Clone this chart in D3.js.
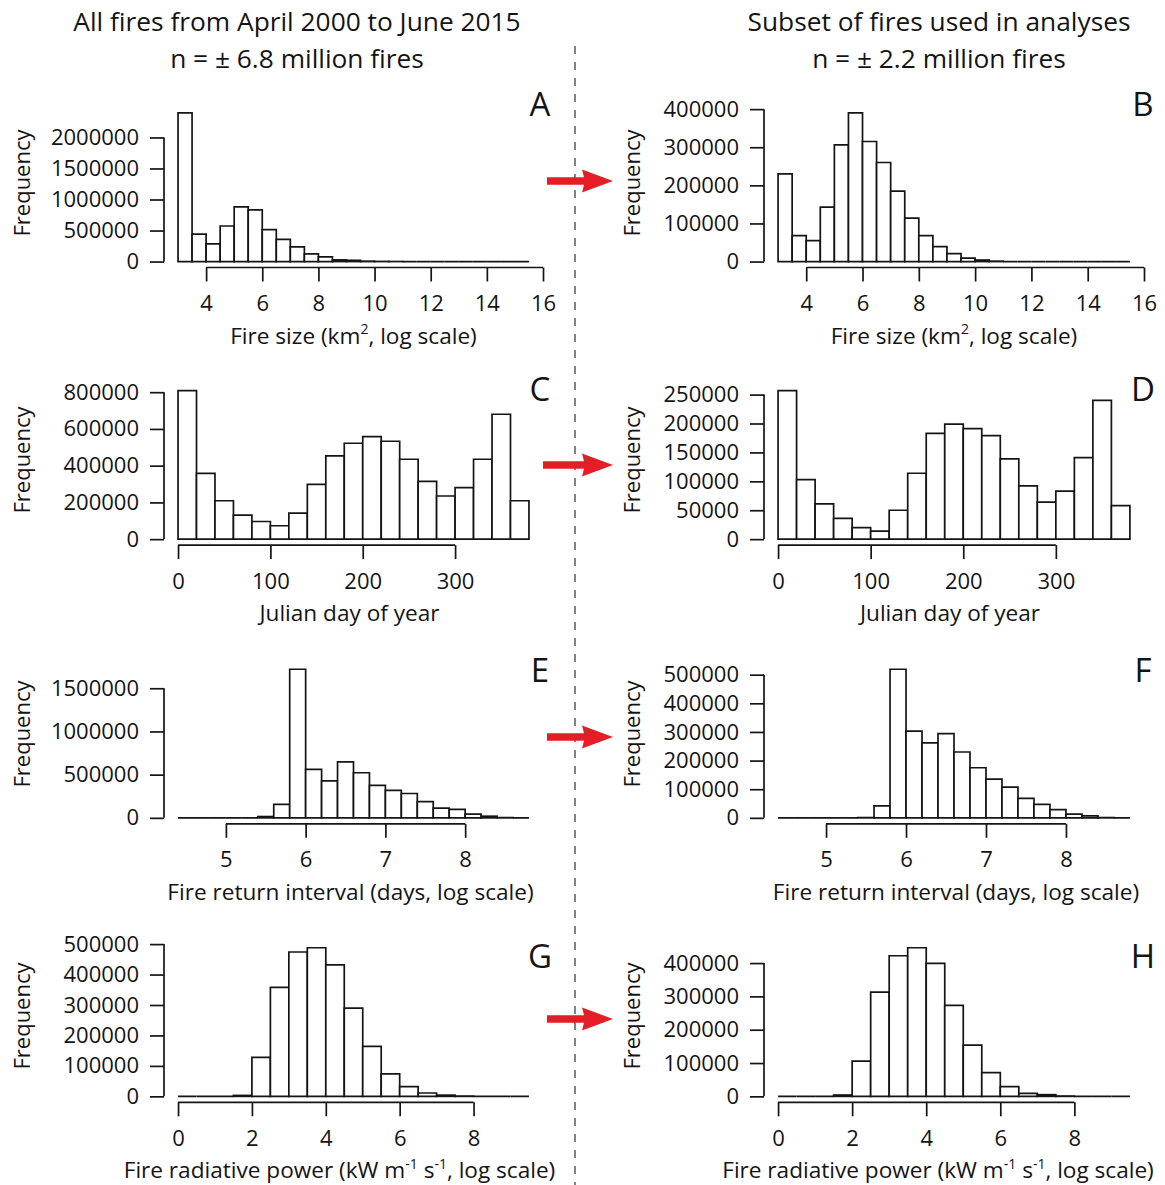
<!DOCTYPE html>
<html>
<head>
<meta charset="utf-8">
<script src="https://cdn.jsdelivr.net/npm/d3@7"></script>
<style>
  html, body { margin: 0; padding: 0; background: #fff; }
  svg { display: block; font-family: "Open Sans", "Noto Sans", sans-serif; }
</style>
</head>
<body>
<svg id="chart" width="1165" height="1185"></svg>
<script>
// ---- Column headings ----
const headingAll = ["All fires from April 2000 to June 2015", "n = \u00B1 6.8 million fires"];
const headingSubset = ["Subset of fires used in analyses", "n = \u00B1 2.2 million fires"];
const panelLetters = ["A", "B", "C", "D", "E", "F", "G", "H"];

// ---- Histogram bin edges ----
const sizeBreaks = [3, 3.5, 4, 4.5, 5, 5.5, 6, 6.5, 7, 7.5, 8, 8.5, 9, 9.5, 10, 10.5,
                    11, 11.5, 12, 12.5, 13, 13.5, 14, 14.5, 15, 15.5];
const dayBreaks = [0, 20, 40, 60, 80, 100, 120, 140, 160, 180, 200, 220, 240, 260,
                   280, 300, 320, 340, 360, 380];
const returnBreaks = [4.4, 4.6, 4.8, 5.0, 5.2, 5.4, 5.6, 5.8, 6.0, 6.2, 6.4, 6.6, 6.8,
                      7.0, 7.2, 7.4, 7.6, 7.8, 8.0, 8.2, 8.4, 8.6, 8.8];
const frpBreaks = [0, 0.5, 1, 1.5, 2, 2.5, 3, 3.5, 4, 4.5, 5, 5.5, 6, 6.5, 7, 7.5,
                   8, 8.5, 9, 9.5];

// ---- Bin counts: all fires / analysed subset ----
const sizeAll = [2395000, 443000, 286000, 573000, 881000, 832000, 514000, 359000, 236000,
                 123000, 75000, 27000, 20000, 6000, 2000, 1000, 0, 0, 0, 0, 0, 0, 0, 0, 0];
const sizeSubset = [230000, 68000, 55000, 143000, 306000, 390000, 315000, 260000, 185000,
                    114000, 68000, 39000, 21000, 9000, 4000, 1000, 0, 0, 0, 0, 0, 0, 0, 0, 0];
const dayAll = [809000, 358000, 209000, 131000, 96000, 73000, 142000, 298000, 453000, 522000,
                558000, 533000, 435000, 315000, 235000, 280000, 435000, 680000, 209000];
const daySubset = [257000, 103000, 61000, 36000, 20000, 14000, 50000, 114000, 183000, 199000,
                   191000, 179000, 139000, 92000, 64000, 83000, 141000, 240000, 58000];
const returnAll = [0, 0, 0, 0, 0, 15000, 155000, 1720000, 560000, 429000, 649000, 522000,
                   375000, 317000, 282000, 189000, 112000, 97000, 43000, 19000, 3000, 0];
const returnSubset = [0, 0, 0, 0, 0, 1000, 42000, 519000, 303000, 262000, 294000, 230000,
                      175000, 135000, 107000, 68000, 47000, 29000, 13000, 7000, 1000, 0];
const frpAll = [0, 0, 0, 3000, 128000, 358000, 474000, 488000, 432000, 290000, 164000,
                74000, 32000, 11000, 4000, 1000, 0, 0, 0];
const frpSubset = [0, 0, 0, 4000, 106000, 313000, 422000, 446000, 399000, 273000, 154000,
                   71000, 29000, 9000, 5000, 1000, 0, 0, 0];

// ---- Tick values ----
const sizeTicks = [4, 6, 8, 10, 12, 14, 16];
const dayTicks = [0, 100, 200, 300];
const returnTicks = [5, 6, 7, 8];
const frpTicks = [0, 2, 4, 6, 8];
const yTicksA = [0, 500000, 1000000, 1500000, 2000000];
const yTicksB = [0, 100000, 200000, 300000, 400000];
const yTicksC = [0, 200000, 400000, 600000, 800000];
const yTicksD = [0, 50000, 100000, 150000, 200000, 250000];
const yTicksE = [0, 500000, 1000000, 1500000];
const yTicksF = [0, 100000, 200000, 300000, 400000, 500000];
const yTicksG = [0, 100000, 200000, 300000, 400000, 500000];
const yTicksH = [0, 100000, 200000, 300000, 400000];

// ---- Axis titles (pieces flagged sup are raised) ----
const yTitle = "Frequency";
const sizeTitle = [{t: "Fire size (km"}, {t: "2", sup: true}, {t: ", log scale)"}];
const dayTitle = [{t: "Julian day of year"}];
const returnTitle = [{t: "Fire return interval (days, log scale)"}];
const frpTitle = [{t: "Fire radiative power (kW m"}, {t: "-1", sup: true}, {t: " s"},
                  {t: "-1", sup: true}, {t: ", log scale)"}];

const panels = [
  {row: 0, col: 0, breaks: sizeBreaks,   counts: sizeAll,      xTicks: sizeTicks,   yTicks: yTicksA, title: sizeTitle},
  {row: 0, col: 1, breaks: sizeBreaks,   counts: sizeSubset,   xTicks: sizeTicks,   yTicks: yTicksB, title: sizeTitle},
  {row: 1, col: 0, breaks: dayBreaks,    counts: dayAll,       xTicks: dayTicks,    yTicks: yTicksC, title: dayTitle},
  {row: 1, col: 1, breaks: dayBreaks,    counts: daySubset,    xTicks: dayTicks,    yTicks: yTicksD, title: dayTitle},
  {row: 2, col: 0, breaks: returnBreaks, counts: returnAll,    xTicks: returnTicks, yTicks: yTicksE, title: returnTitle},
  {row: 2, col: 1, breaks: returnBreaks, counts: returnSubset, xTicks: returnTicks, yTicks: yTicksF, title: returnTitle},
  {row: 3, col: 0, breaks: frpBreaks,    counts: frpAll,       xTicks: frpTicks,    yTicks: yTicksG, title: frpTitle},
  {row: 3, col: 1, breaks: frpBreaks,    counts: frpSubset,    xTicks: frpTicks,    yTicks: yTicksH, title: frpTitle}
];

// ---- Layout ----
const ink = "#141414";
const lw = 1.7;
const colL = [164, 764], colR = [543, 1144];
const rowTop = [107, 384.6, 663.3, 941.8], rowH = 160.5;
const yLabelX = [30, 640];
const yLabelY = [183, 460, 734, 1016];
const titleShift = [[0, 0], [-4, -4], [-3, 2], [-14, -16]];
const letterX = [540, 1143];
const letterY = [116, 401, 682, 968];
const arrowY = [181, 465, 737, 1019];
const arrowX0 = [547, 543, 547, 547];

const svg = d3.select("#chart");
svg.append("rect").attr("width", 1165).attr("height", 1185).attr("fill", "#fff");

// Text with optional raised pieces
function richText(sel, parts, size) {
  parts.forEach((p, i) => {
    const ts = sel.append("tspan").text(p.t);
    if (p.sup) {
      ts.attr("font-size", size * 0.62).attr("dy", -size * 0.42);
    } else if (i > 0 && parts[i - 1].sup) {
      ts.attr("dy", size * 0.42);
    }
  });
}

// Headings
[headingAll, headingSubset].forEach((lines, c) => {
  lines.forEach((line, i) => {
    svg.append("text")
      .attr("x", c === 0 ? 297 : 939)
      .attr("y", i === 0 ? 31 : 68)
      .attr("text-anchor", "middle")
      .attr("font-size", 26.3)
      .attr("fill", ink)
      .text(line);
  });
});

// Dashed divider
svg.append("line")
  .attr("x1", 575).attr("x2", 575).attr("y1", 46).attr("y2", 1185)
  .attr("stroke", "#333").attr("stroke-width", 1.2)
  .attr("stroke-dasharray", "8,8");

// Panels
panels.forEach((p, k) => {
  const x0 = colL[p.col], x1 = colR[p.col];
  const yt = rowTop[p.row], yb = rowTop[p.row] + rowH;
  const lo = p.breaks[0], hi = p.breaks[p.breaks.length - 1];
  const pad = 0.04 * (hi - lo);
  const x = d3.scaleLinear().domain([lo - pad, hi + pad]).range([x0, x1]);
  const ymax = d3.max(p.counts);
  const y = d3.scaleLinear().domain([-0.04 * ymax, 1.04 * ymax]).range([yb, yt]);

  const g = svg.append("g");
  const bins = p.counts.map((c, i) => ({a: p.breaks[i], b: p.breaks[i + 1], c}));

  // Each bin is an outlined box; empty bins collapse to a line on the baseline
  g.selectAll("path.bar").data(bins).join("path")
    .attr("class", "bar")
    .attr("d", d => {
      const pth = d3.path();
      pth.moveTo(x(d.a), y(0));
      pth.lineTo(x(d.a), y(d.c));
      pth.lineTo(x(d.b), y(d.c));
      pth.lineTo(x(d.b), y(0));
      pth.closePath();
      return pth.toString();
    })
    .attr("fill", "#fff")
    .attr("stroke", ink)
    .attr("stroke-width", lw)
    .attr("stroke-linejoin", "miter");

  // y axis (line spans first to last tick)
  const gy = g.append("g")
    .attr("transform", `translate(${x0},0)`)
    .call(d3.axisLeft(y).tickValues(p.yTicks).tickSize(14).tickPadding(11)
      .tickFormat(d3.format("d")));
  gy.select(".domain").remove();
  gy.append("line")
    .attr("y1", y(p.yTicks[0])).attr("y2", y(p.yTicks[p.yTicks.length - 1]))
    .attr("stroke", ink).attr("stroke-width", lw);
  gy.attr("font-size", 22).attr("font-family", null).attr("color", ink);
  gy.selectAll(".tick line").attr("stroke-width", lw);

  // x axis
  const gx = g.append("g")
    .attr("transform", `translate(0,${yb})`)
    .call(d3.axisBottom(x).tickValues(p.xTicks).tickSize(14).tickPadding(14)
      .tickFormat(d3.format("d")));
  gx.select(".domain").remove();
  gx.append("line")
    .attr("x1", x(p.xTicks[0])).attr("x2", x(p.xTicks[p.xTicks.length - 1]))
    .attr("stroke", ink).attr("stroke-width", lw);
  gx.attr("font-size", 22).attr("font-family", null).attr("color", ink);
  gx.selectAll(".tick line").attr("stroke-width", lw);

  // y title
  svg.append("text")
    .attr("transform", `translate(${yLabelX[p.col]},${yLabelY[p.row]}) rotate(-90)`)
    .attr("text-anchor", "middle")
    .attr("font-size", 22)
    .attr("fill", ink)
    .text(yTitle);

  // x title
  const xt = svg.append("text")
    .attr("x", (x0 + x1) / 2 + titleShift[p.row][p.col])
    .attr("y", yb + 76)
    .attr("text-anchor", "middle")
    .attr("font-size", 22.6)
    .attr("fill", ink);
  richText(xt, p.title, 22.6);

  // panel letter
  svg.append("text")
    .attr("x", letterX[p.col])
    .attr("y", letterY[p.row])
    .attr("text-anchor", "middle")
    .attr("font-size", 33)
    .attr("fill", ink)
    .text(panelLetters[k]);
});

// Red arrows between columns
arrowY.forEach((cy, i) => {
  const xs = arrowX0[i], xh = 584, xt = 613;
  const path = d3.path();
  path.moveTo(xs, cy - 3.8);
  path.lineTo(xh, cy - 3.8);
  path.lineTo(xh - 2, cy - 11.5);
  path.lineTo(xt, cy);
  path.lineTo(xh - 2, cy + 11.5);
  path.lineTo(xh, cy + 3.8);
  path.lineTo(xs, cy + 3.8);
  path.closePath();
  svg.append("path").attr("d", path.toString()).attr("fill", "#e31e26");
});
</script>
</body>
</html>
